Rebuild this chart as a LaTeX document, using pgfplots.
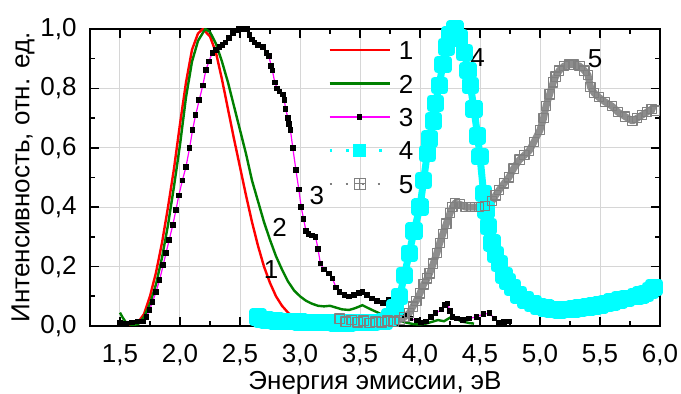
\documentclass[border=0pt]{standalone}
\usepackage{fontspec}
\setmainfont{Liberation Sans}
\usepackage{pgfplots}
\pgfplotsset{compat=1.18}
\pgfdeclareplotmark{boxplus}{%
  \pgfpathrectangle{\pgfpoint{-\pgfplotmarksize}{-\pgfplotmarksize}}{\pgfpoint{2\pgfplotmarksize}{2\pgfplotmarksize}}%
  \pgfpathmoveto{\pgfpoint{-\pgfplotmarksize}{0pt}}\pgfpathlineto{\pgfpoint{\pgfplotmarksize}{0pt}}%
  \pgfpathmoveto{\pgfpoint{0pt}{-\pgfplotmarksize}}\pgfpathlineto{\pgfpoint{0pt}{\pgfplotmarksize}}%
  \pgfusepathqstroke}
\definecolor{cred}{HTML}{FF0000}
\definecolor{cgreen}{HTML}{008000}
\definecolor{cmag}{HTML}{FF00FF}
\definecolor{ccyan}{HTML}{00FFFF}
\definecolor{cgray}{HTML}{808080}
\newcommand{\fs}{\fontsize{13}{15.6}\selectfont}
\begin{document}
\begin{tikzpicture}
\begin{axis}[
  at={(0,0)}, anchor=south west, scale only axis,
  width=285pt, height=148.5pt,
  xmin=1.25, xmax=6.0, ymin=0, ymax=1.0,
  xtick={1.5,2,2.5,3,3.5,4,4.5,5,5.5,6},
  ytick={0,0.2,0.4,0.6,0.8,1},
  minor x tick num=1, minor y tick num=1,
  xtick pos=both, ytick pos=both,
  tick align=inside, major tick length=4.5pt, minor tick length=2.5pt,
  axis line style={line width=1pt},
  every tick/.style={black, line width=0.8pt},
  grid=major, major grid style={line width=0.5pt, color=black!16},
  tick label style={font=\fs},
  xticklabel style={anchor=base, inner sep=0pt, yshift=-18.5pt},
  yticklabel style={anchor=east, inner sep=0pt, xshift=-6.5pt},
  /pgf/number format/.cd, use comma, fixed, fixed zerofill, precision=1, assume math mode=true, /pgfplots/.cd,
  xlabel={Энергия эмиссии, эВ},
  ylabel={Интенсивность, отн. ед.},
  every axis x label/.style={at={(axis description cs:0.5,-0.192)}, anchor=center, font=\fs},
  every axis y label/.style={at={(axis description cs:-0.1175,0.5)}, rotate=90, anchor=center, font=\fs},
  legend image code/.code={\draw[mark repeat=2,mark phase=2,#1] plot coordinates {(0pt,0pt) (15pt,0pt) (30pt,0pt)};},
  legend style={draw=none, fill=none, at={(axis description cs:0.4175,0.968)}, anchor=north west,
    font=\fs, inner sep=0pt, row sep=5.3pt, column sep=3pt,
    nodes={inner sep=1pt, text height=9.4pt, text depth=0pt}},
  legend cell align=left,
]
\addplot[cred, line width=1.2pt] table {
1.50 0.005
1.55 0.004
1.60 0.006
1.65 0.012
1.70 0.04
1.75 0.10
1.80 0.18
1.85 0.28
1.90 0.40
1.95 0.53
2.00 0.68
2.05 0.82
2.10 0.93
2.15 0.985
2.19 1.00
2.25 0.975
2.30 0.92
2.35 0.83
2.40 0.73
2.45 0.63
2.50 0.535
2.55 0.44
2.60 0.35
2.65 0.27
2.70 0.20
2.75 0.145
2.80 0.10
2.85 0.068
2.90 0.045
2.95 0.028
3.00 0.015
};
\addlegendentry{1}
\addplot[cgreen, line width=1.2pt] table {
1.50 0.045
1.52 0.03
1.55 0.012
1.60 0.003
1.65 0.006
1.70 0.03
1.75 0.075
1.80 0.14
1.85 0.23
1.90 0.34
1.95 0.47
2.00 0.61
2.05 0.77
2.10 0.89
2.15 0.96
2.21 1.00
2.25 0.99
2.30 0.95
2.35 0.89
2.40 0.82
2.45 0.74
2.50 0.66
2.55 0.58
2.60 0.49
2.65 0.42
2.70 0.35
2.75 0.29
2.80 0.235
2.85 0.19
2.90 0.15
2.95 0.12
3.00 0.10
3.05 0.085
3.10 0.075
3.15 0.068
3.20 0.066
3.25 0.068
3.30 0.062
3.35 0.056
3.41 0.054
3.46 0.06
3.52 0.07
3.56 0.062
3.60 0.054
3.65 0.045
3.69 0.037
3.75 0.028
3.80 0.02
3.85 0.015
3.90 0.01
3.95 0.006
4.00 0.005
4.05 0.008
4.10 0.014
4.15 0.02
4.20 0.016
4.25 0.028
4.30 0.025
4.35 0.015
4.41 0.01
4.45 0.008
};
\addlegendentry{2}
\addplot[cmag, line width=0.6pt, mark=square*, mark size=1.1pt, mark options={fill=black, draw=black, solid}] table {
1.50 0.01
1.55 0.008
1.60 0.012
1.65 0.015
1.69 0.015
1.72 0.03
1.745 0.054
1.77 0.08
1.80 0.115
1.83 0.155
1.86 0.205
1.883 0.245
1.91 0.29
1.94 0.34
1.966 0.39
1.99 0.44
2.02 0.49
2.05 0.536
2.08 0.60
2.105 0.66
2.13 0.71
2.16 0.76
2.19 0.81
2.216 0.862
2.24 0.89
2.27 0.92
2.30 0.93
2.33 0.94
2.355 0.946
2.38 0.955
2.41 0.97
2.44 0.986
2.47 0.995
2.494 1.00
2.53 1.00
2.56 1.00
2.58 0.98
2.60 0.965
2.62 0.955
2.65 0.947
2.69 0.94
2.72 0.92
2.74 0.91
2.76 0.875
2.77 0.86
2.79 0.82
2.81 0.80
2.83 0.79
2.86 0.78
2.87 0.76
2.88 0.73
2.90 0.70
2.91 0.68
2.92 0.66
2.94 0.60
2.966 0.525
2.99 0.46
3.01 0.40
3.03 0.36
3.05 0.32
3.07 0.31
3.10 0.305
3.13 0.30
3.15 0.26
3.17 0.21
3.20 0.19
3.24 0.177
3.27 0.16
3.30 0.13
3.33 0.115
3.37 0.105
3.41 0.099
3.45 0.105
3.49 0.112
3.52 0.115
3.56 0.105
3.60 0.093
3.64 0.085
3.69 0.077
3.74 0.087
3.78 0.07
3.82 0.05
3.87 0.035
3.92 0.025
3.97 0.018
4.01 0.012
4.05 0.015
4.09 0.03
4.13 0.043
4.18 0.055
4.21 0.07
4.23 0.076
4.25 0.05
4.27 0.031
4.31 0.025
4.36 0.02
4.41 0.025
4.47 0.031
4.53 0.04
4.58 0.043
4.62 0.025
4.66 0.01
4.70 0.013
4.74 0.015
};
\addlegendentry{3}
\addlegendimage{ccyan, line width=1.3pt, dash pattern=on 1.3pt off 7pt, mark=square*, mark size=2.5pt, mark options={solid}}
\addlegendentry{4}
\addlegendimage{cgray, line width=1pt, dash pattern=on 1pt off 7pt, mark=boxplus, mark size=2.7pt, mark options={solid, line width=0.5pt}}
\addlegendentry{5}
\addplot[forget plot, ccyan, line width=3.5pt, line join=round, mark=square*, mark size=2.6pt, mark options={solid}] table {
2.65 0.03
2.68 0.022
2.72 0.02
2.80 0.017
2.90 0.015
3.00 0.013
3.10 0.012
3.20 0.011
3.30 0.01
3.40 0.01
3.50 0.011
3.60 0.012
3.70 0.015
3.75 0.03
3.79 0.06
3.83 0.099
3.87 0.17
3.91 0.245
3.95 0.32
4.00 0.40
4.03 0.49
4.06 0.58
4.08 0.63
4.11 0.69
4.13 0.75
4.16 0.81
4.19 0.88
4.22 0.94
4.25 0.98
4.29 1.00
4.33 0.97
4.37 0.92
4.40 0.86
4.42 0.81
4.45 0.73
4.48 0.64
4.50 0.57
4.53 0.447
4.55 0.39
4.57 0.334
4.60 0.28
4.63 0.24
4.66 0.21
4.70 0.17
4.73 0.15
4.77 0.13
4.82 0.105
4.88 0.088
4.94 0.075
4.99 0.065
5.05 0.06
5.10 0.056
5.16 0.054
5.22 0.055
5.28 0.057
5.33 0.06
5.40 0.064
5.45 0.067
5.50 0.07
5.55 0.075
5.60 0.081
5.66 0.088
5.72 0.093
5.80 0.099
5.84 0.105
5.88 0.11
5.92 0.12
5.95 0.13
};
\addplot[forget plot, cgray!90, line width=3.5pt, line join=round, mark=square, mark size=2.3pt, mark options={solid, line width=0.6pt, draw=cgray}] table {
3.33 0.025
3.38 0.015
3.43 0.02
3.48 0.012
3.53 0.018
3.58 0.01
3.63 0.015
3.68 0.012
3.73 0.018
3.78 0.015
3.83 0.02
3.87 0.03
3.91 0.043
3.94 0.065
3.97 0.085
4.00 0.11
4.03 0.14
4.06 0.16
4.08 0.177
4.11 0.21
4.14 0.245
4.165 0.28
4.19 0.31
4.22 0.345
4.25 0.38
4.27 0.40
4.29 0.413
4.33 0.41
4.38 0.40
4.43 0.40
4.49 0.40
4.54 0.405
4.60 0.42
4.63 0.44
4.66 0.458
4.70 0.48
4.74 0.50
4.78 0.53
4.83 0.56
4.87 0.575
4.91 0.59
4.95 0.62
5.00 0.66
5.03 0.70
5.05 0.74
5.08 0.78
5.11 0.82
5.13 0.84
5.16 0.86
5.20 0.875
5.24 0.88
5.28 0.88
5.33 0.875
5.37 0.86
5.40 0.845
5.42 0.805
5.45 0.785
5.49 0.77
5.54 0.755
5.60 0.74
5.65 0.72
5.71 0.705
5.77 0.69
5.81 0.70
5.85 0.71
5.89 0.72
5.93 0.73
5.96 0.725
};
\node[font=\fs] at (axis cs:2.76,0.19) {1};
\node[font=\fs] at (axis cs:2.83,0.333) {2};
\node[font=\fs] at (axis cs:3.14,0.44) {3};
\node[font=\fs] at (axis cs:4.48,0.905) {4};
\node[font=\fs] at (axis cs:5.46,0.90) {5};
\end{axis}
\pgfresetboundingbox
\path (-45pt,-34pt) rectangle (295.5pt,163pt);
\end{tikzpicture}
\end{document}
